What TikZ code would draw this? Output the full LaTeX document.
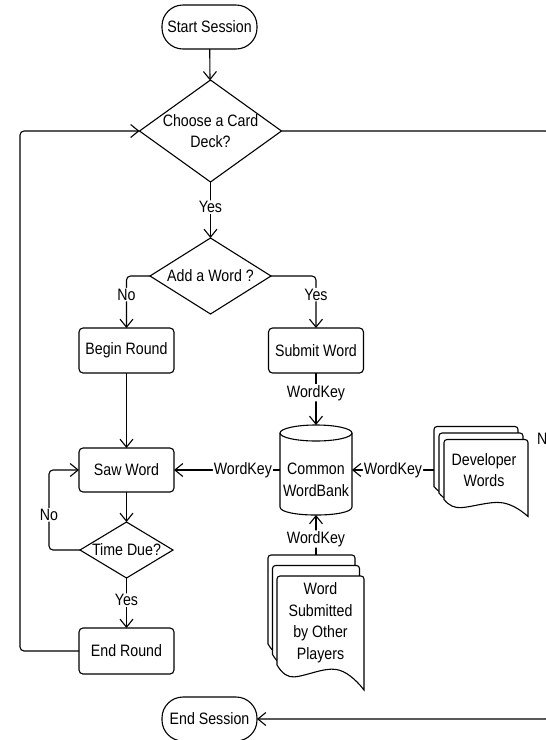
\documentclass[tikz,border=0pt]{standalone}
\usepackage{fontspec}
\setmainfont{Liberation Sans}[FakeStretch=0.86]
\usetikzlibrary{shapes.geometric,arrows.meta}

\tikzset{
  base/.style={font=\fontsize{16.5}{21.5}\selectfont, align=center, inner sep=0pt, outer sep=0pt},
  shp/.style={draw, line width=1.1pt},
  proc/.style={base, shp, rounded corners=4pt, minimum width=95pt, minimum height=45pt},
  term/.style={base, shp, rounded corners=21pt, minimum width=95pt, minimum height=44pt},
  dec/.style={base, shp, diamond},
  lbl/.style={base, fill=white, inner sep=1pt},
  conn/.style={line width=1.1pt, -{Straight Barb[length=8pt,width=13pt]}, rounded corners=4pt},
  doc/.style={draw, fill=white, line width=1.1pt},
}

\newcommand\onedoc[4]{%
  \path[doc] ({#1},{#2+0.78*#4}) [rounded corners=3pt] -- ({#1},{#2}) -- ({#1+#3},{#2}) [sharp corners] -- ({#1+#3},{#2+#4})
   .. controls ({#1+0.9*#3},{#2+0.9*#4}) and ({#1+0.78*#3},{#2+0.83*#4}) .. ({#1+0.68*#3},{#2+0.82*#4})
   .. controls ({#1+0.55*#3},{#2+0.8*#4}) and ({#1+0.32*#3},{#2+0.88*#4}) .. ({#1+0.2*#3},{#2+0.885*#4})
   .. controls ({#1+0.13*#3},{#2+0.89*#4}) and ({#1+0.06*#3},{#2+0.86*#4}) .. ({#1},{#2+0.78*#4}) -- cycle;}

\begin{document}
\begin{tikzpicture}[x=1pt,y=-1pt]
\useasboundingbox (0,0) rectangle (546,740);

% multi-document shapes
\onedoc{434}{426.5}{84}{77}
\onedoc{439}{433}{84}{77}
\onedoc{444}{439.5}{84}{77}
\onedoc{268}{555}{87}{114}
\onedoc{272.5}{565.5}{87}{114}
\onedoc{277}{576}{87}{114}

% cylinder
\node[base, minimum width=72pt, minimum height=90pt] (bank) at (316,470) {};
\draw[shp, fill=white] (280,433) -- (280,507) .. controls (280,517.7) and (352,517.7) .. (352,507) -- (352,433);
\draw[shp] (316,433) ellipse [x radius=36, y radius=8];
\node[base] (banktxt) at (316,480) {Common\\WordBank};

% nodes
\node[term] (start) at (209.5,27) {Start Session};
\node[dec, minimum width=142pt, minimum height=102pt, label={[base]center:Choose a Card\\Deck?}] (choose) at (210.5,131) {};
\node[dec, minimum width=121pt, minimum height=76pt, label={[base]center:Add a Word ?}] (add) at (210.5,276) {};
\node[proc] (begin) at (126.5,350.5) {Begin Round};
\node[proc] (submit) at (316,350.5) {Submit Word};
\node[proc, minimum height=44pt] (saw) at (126.5,470) {Saw Word};
\node[dec, minimum width=93pt, minimum height=56pt, label={[base]center:Time Due?}] (time) at (126.5,550) {};
\node[proc, minimum height=46pt] (endr) at (126.5,651) {End Round};
\node[term] (ends) at (209.5,719) {End Session};
\node[base, minimum width=94pt, minimum height=90pt] (dev) at (481,471) {};
\node[base] (devtxt) at (484,470) {Developer\\Words};
\node[base, minimum width=96pt, minimum height=135pt] (other) at (316,622.5) {};
\node[base] (othertxt) at (320.5,622.5) {Word\\Submitted\\by Other\\Players};
\node[base, anchor=west] (ncut) at (537,439) {N};

% connectors
\draw[conn] (start) -- (choose);
\draw[conn] (choose) -- node[lbl, pos=0.45] {Yes} (add);
\draw[conn] (add.west) -| node[lbl, pos=0.68] {No} (begin.north);
\draw[conn] (add.east) -| node[lbl, pos=0.68] {Yes} (submit.north);
\draw[conn] (begin) -- (saw);
\draw[conn] (submit) -- node[lbl, pos=0.38] {WordKey} (bank.north);
\draw[conn] (bank.west) -- node[lbl, pos=0.35] {WordKey} (saw.east);
\draw[conn] (dev.west |- bank.east) -- node[lbl, pos=0.5] {WordKey} (bank.east);
\draw[conn] (other.north) -- node[lbl, pos=0.4] {WordKey} (bank.south);
\draw[conn] (saw) -- (time);
\draw[conn] (time.west) -- ++(-31,0) |- node[lbl, pos=0.22] {No} (saw.west);
\draw[conn] (time) -- node[lbl, pos=0.44] {Yes} (endr);
\draw[conn] (endr.west) -- ++(-59,0) |- (choose.west);
\draw[conn] (choose.east) -- ++(268,0) |- (ends.east);
\end{tikzpicture}
\end{document}
